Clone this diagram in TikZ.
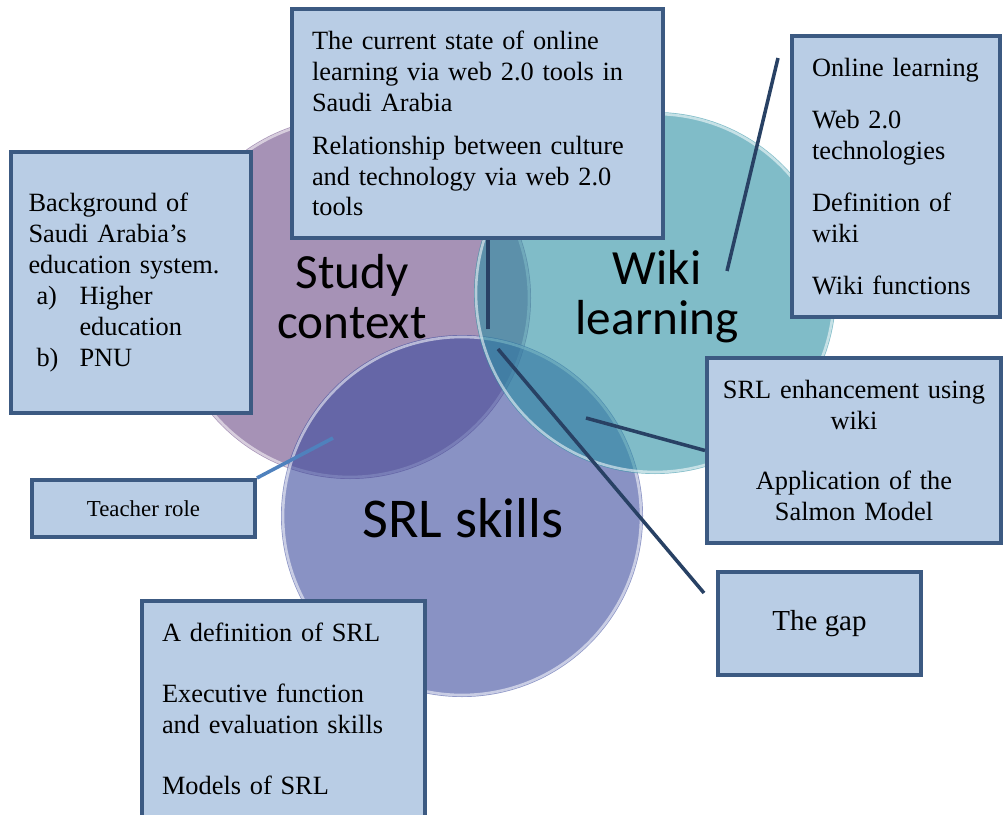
\documentclass[tikz,border=0pt]{standalone}
\usepackage{fontspec}
\setmainfont{Liberation Serif}
\newfontfamily\vennfont{Carlito}
\definecolor{purp}{RGB}{107,73,133}
\definecolor{srlblue}{RGB}{58,73,157}
\definecolor{wikiteal}{RGB}{43,143,163}
\definecolor{boxfill}{RGB}{185,205,229}
\definecolor{boxline}{RGB}{60,90,130}
\definecolor{linkline}{RGB}{40,65,100}
\definecolor{softlink}{RGB}{79,129,189}

\begin{document}
\begin{tikzpicture}[x=0.02cm,y=-0.02cm,
  box/.style={draw=boxline,line width=2.3pt,fill=boxfill,inner sep=0pt,
    font=\fontsize{15}{17.6}\selectfont},
  link/.style={draw=linkline,line width=2pt},
  venn/.style={font=\vennfont\fontsize{28}{28.4}\selectfont,align=center}]
\useasboundingbox (0,0) rectangle (1003,814);
\foreach \cx/\cy/\col in {350/298/purp,462/516/srlblue,655/293/wikiteal} {
  \fill[\col,fill opacity=.6] (\cx,\cy) circle[radius=181];
  \draw[white,opacity=.55,line width=1.5pt] (\cx,\cy) circle[radius=179];
}
\node[venn] (study) at (352,297) {Study\\context};
\node[venn] (wiki) at (657,297) {Wiki\\learning};
\node[venn,font=\vennfont\fontsize{32}{32}\selectfont] (srl) at (463,518) {SRL skills};

\node[box,minimum width=7.42cm,minimum height=4.58cm,text width=6.62cm,align=left]
  (state) at (477.5,123.5) {The current state of online\\ learning via web 2.0 tools in\\ Saudi Arabia\\[6.8pt]
  Relationship between culture\\ and technology via web 2.0\\ tools};
\node[box,minimum width=4.8cm,minimum height=5.22cm,text width=4.1cm,align=left]
  (background) at (131,282.5) {Background of\\ Saudi Arabia’s\\ education system.\\
  \hspace*{0.16cm}\makebox[0.86cm][l]{a)}Higher\\ \hspace*{1.02cm}education\\
  \hspace*{0.16cm}\makebox[0.86cm][l]{b)}PNU};
\node[box,minimum width=4.16cm,minimum height=5.62cm,text width=3.36cm,align=left]
  (online) at (896,176.5) {Online learning\\[12pt] Web 2.0\\ technologies\\[12pt]
  Definition of\\ wiki\\[12pt] Wiki functions};
\node[box,minimum width=5.88cm,minimum height=3.7cm,text width=5.4cm,align=center]
  (enh) at (854,450.5) {SRL enhancement using\\ wiki\\[17pt] Application of the\\ Salmon Model};
\node[box,minimum width=4.06cm,minimum height=2.06cm,font=\fontsize{16.5}{19}\selectfont]
  (gap) at (819.5,623.5) {The gap};
\node[box,minimum width=4.46cm,minimum height=1.14cm,font=\fontsize{13}{15}\selectfont]
  (teacher) at (143.5,508.5) {Teacher role};
\node[box,minimum width=5.66cm,minimum height=4.32cm,text width=4.86cm,align=left]
  (def) at (283.5,709) {A definition of SRL\\[17pt] Executive function\\ and evaluation skills\\[17pt] Models of SRL};

% connectors
\coordinate (hub) at (488,329);
\coordinate (mid) at (498,349);
\coordinate (gapend) at (704,593);
\coordinate (wikiend) at (727,271);
\coordinate (wikitop) at (778,58);
\coordinate (overlap) at (586,418);
\coordinate (darkpart) at (333,438);
\draw[link] (hub) -- (hub |- state.south);
\draw[link] (mid) -- (gapend);
\draw[link] (wikiend) -- (wikitop);
\draw[link] (overlap) -- (enh.west);
\draw[link,draw=softlink] (darkpart) -- (teacher.north east);
\end{tikzpicture}
\end{document}
